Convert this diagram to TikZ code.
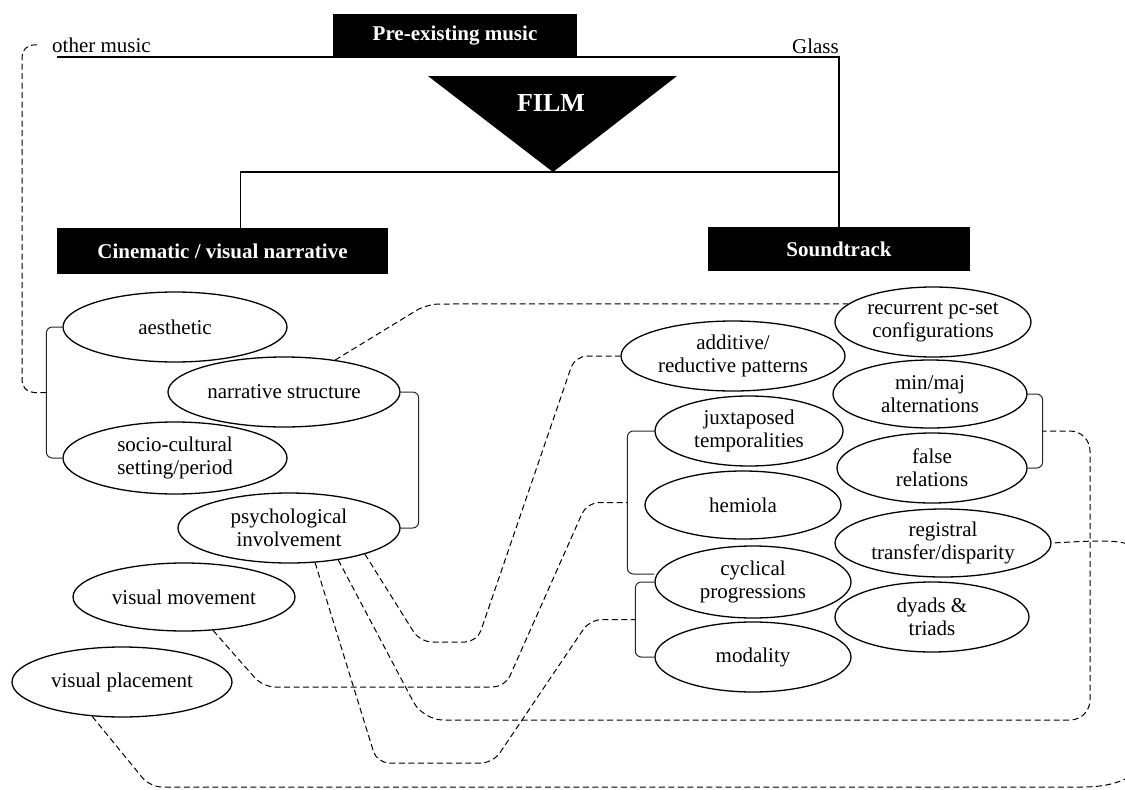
\documentclass[tikz,border=0pt]{standalone}
\usepackage{fontspec}
\setmainfont{Liberation Serif}
\usetikzlibrary{shapes.geometric,calc}
\begin{document}
\begin{tikzpicture}[x=1pt,y=-1pt,
  every node/.style={font=\fontsize{21}{23}\selectfont},
  oval/.style={draw, ellipse, line width=1.3pt, inner sep=0pt, align=center},
  blackbox/.style={fill=black, text=white, font=\fontsize{21}{23}\selectfont\bfseries, inner sep=0pt},
  tree/.style={line width=1.3pt},
  bracket/.style={line width=1pt, draw=black!85, rounded corners=6pt},
  link/.style={line width=1pt, dash pattern=on 6pt off 3.5pt, rounded corners=12pt}
]
\useasboundingbox (0,0) rectangle (1125,790);
\clip (0,0) rectangle (1125,790);

% labels on the top rule
\node[anchor=base west, inner sep=0pt] (omus) at (52,52) {other music};
\node[anchor=base east, inner sep=0pt] (glass) at (839,53) {Glass};
\coordinate (rule) at (57,57);

% black headings
\node[blackbox, minimum width=244pt, minimum height=43pt] (pre) at (455,35.5) {Pre-existing music};
\node[blackbox, minimum width=331pt, minimum height=46pt] (cin) at (222.5,251) {Cinematic / visual narrative};
\node[blackbox, minimum width=262pt, minimum height=44pt] (snd) at (839,249) {Soundtrack};

% film triangle
\coordinate (ftl) at (428,76);
\coordinate (ftr) at (677,76);
\coordinate (ftip) at (553,172);
\fill (ftl) -- (ftr) -- (ftip) -- cycle;
\node[font=\fontsize{26}{28}\selectfont\bfseries, text=white] (film) at (551,103) {FILM};

% tree lines
\draw[tree] (rule) -| (snd.north);
\draw[tree] ($(cin.north)+(18,0)$) |- (ftip -| snd.north);

% visual / narrative elements
\node[oval, minimum width=224pt, minimum height=70pt] (aes) at (175,327) {aesthetic};
\node[oval, minimum width=232pt, minimum height=70pt] (nar) at (284,392) {narrative structure};
\node[oval, minimum width=224pt, minimum height=72pt] (soc) at (175,458) {socio-cultural\\setting/period};
\node[oval, minimum width=222pt, minimum height=70pt] (psy) at (289,528) {psychological\\involvement};
\node[oval, minimum width=222pt, minimum height=68pt] (vmo) at (184,597) {visual movement};
\node[oval, minimum width=220pt, minimum height=70pt] (vpl) at (122,682) {visual placement};

% soundtrack elements
\node[oval, minimum width=196pt, minimum height=70pt] (rec) at (933,322) {recurrent pc-set\\configurations};
\node[oval, minimum width=224pt, minimum height=70pt] (add) at (733,356) {additive/\\reductive patterns};
\node[oval, minimum width=194pt, minimum height=68pt] (mm) at (930,394) {min/maj\\alternations};
\node[oval, minimum width=188pt, minimum height=70pt] (jux) at (749,431) {juxtaposed\\temporalities};
\node[oval, minimum width=190pt, minimum height=70pt] (fal) at (932,468) {false\\relations};
\node[oval, minimum width=196pt, minimum height=68pt] (hem) at (743,505) {hemiola};
\node[oval, minimum width=216pt, minimum height=68pt] (reg) at (943,543) {registral\\transfer/disparity};
\node[oval, minimum width=196pt, minimum height=72pt] (cyc) at (753,582) {cyclical\\progressions};
\node[oval, minimum width=194pt, minimum height=70pt] (dya) at (932,617) {dyads \&\\triads};
\node[oval, minimum width=196pt, minimum height=70pt] (mod) at (753,657) {modality};

% grouping brackets
\draw[bracket] (aes.west) -- ++(-16,0) |- (soc.west);
\coordinate (brA) at ($(aes.west)!0.5!(soc.west)+(-16,0)$);
\draw[bracket] (nar.east) -- ++(18,0) |- (psy.east);
\draw[bracket] (mm.east) -- ++(15,0) |- (fal.east);
\coordinate (brC) at ($(mm.east)!0.5!(fal.east)+(15,0)$);
\draw[bracket] (jux.west) -- ++(-27,0) |- ($(cyc.west)+(0,-8)$);
\coordinate (brD) at ($(jux.west)!0.5!(cyc.west)+(-27,-4)$);
\draw[bracket] (cyc.west) -- ++(-19,0) |- (mod.west);
\coordinate (brE) at ($(cyc.west)!0.5!(mod.west)+(-19,0)$);

% dashed links
\draw[link] (brA) -| ($(omus.west)+(-30,0)$) -- ($(omus.west)+(-14,0)$);
\draw[link] (nar.32) -- (427,304) -- (rec.168);
\draw[link] (psy.341) -- (420,642) -- (477,642) -- (575,356) -- (add.west);
\draw[link, rounded corners=20pt] (psy.327) -- (423,720) -- (1090,720) -- (1090,431) -- (brC);
\draw[link] (psy.307) -- (377,763) -- (493,763) -- (590,619.5) -- (brE);
\draw[link] (vmo.311) -- (263,687) -- (505,687) -- (587,502.5) -- (brD);
\draw[link] (vpl.229) -- (150,787) -- (1070,787)
  .. controls (1140,787) and (1165,760) .. (1165,660)
  .. controls (1165,560) and (1150,541) .. (1090,541) -- (reg.east);
\end{tikzpicture}
\end{document}
